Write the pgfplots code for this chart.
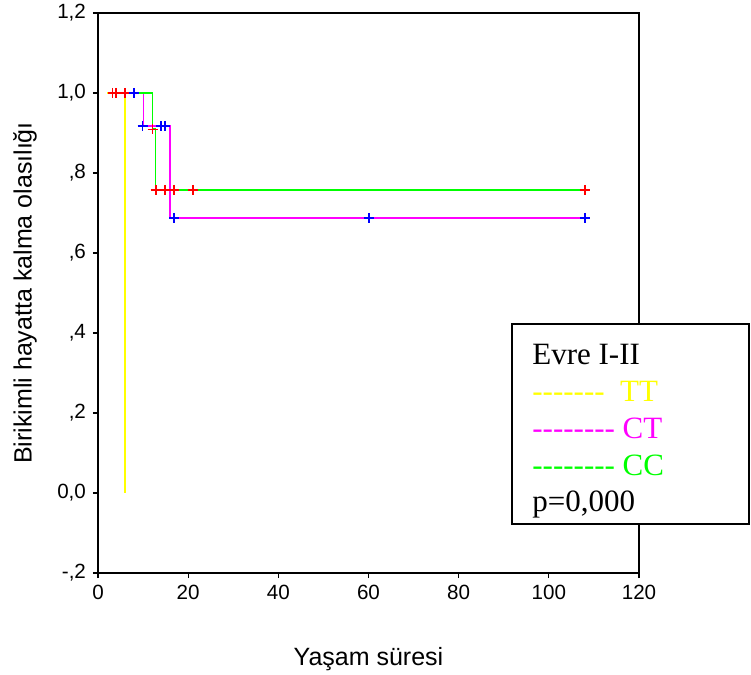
\documentclass[border=0pt]{standalone}
\usepackage{fontspec}
\setmainfont{Liberation Sans}
\newfontfamily\timesfont{Liberation Serif}
\usepackage{pgfplots}
\pgfplotsset{compat=1.18}
\definecolor{kmyellow}{RGB}{255,255,0}
\definecolor{kmmagenta}{RGB}{255,0,255}
\definecolor{kmgreen}{RGB}{0,255,0}
\definecolor{kmred}{RGB}{255,0,0}
\definecolor{kmblue}{RGB}{0,0,255}

\begin{document}
\begin{tikzpicture}
\useasboundingbox (-49pt,-51pt) rectangle (326.5pt,286.5pt);
\begin{axis}[
    at={(0,0)}, anchor=south west,
    scale only axis,
    width=270.5pt, height=280pt,
    xmin=0, xmax=120, ymin=-0.2, ymax=1.2,
    xtick={0,20,...,120},
    ytick={-0.2,0,0.2,0.4,0.6,0.8,1.0,1.2},
    yticklabels={{-,2},{0,0},{,2},{,4},{,6},{,8},{1,0},{1,2}},
    tick align=outside, xtick pos=left, ytick pos=left,
    major tick length=2.5pt,
    tick style={black, line width=0.6pt},
    axis line style={line width=0.6pt},
    ticklabel style={font=\fontsize{10.3}{12}\selectfont},
    /pgf/number format/assume math mode=true,
    xlabel={Yaşam süresi},
    ylabel={Birikimli hayatta kalma olasılığı},
    label style={font=\fontsize{12.5}{15}\selectfont},
    xlabel style={at={(axis description cs:0.5,-0.166)}, anchor=base},
    ylabel style={at={(axis description cs:-0.135,0.5)}, anchor=center},
    clip=false,
]
% CT
\addplot[kmmagenta, line width=0.9pt] coordinates {
    (2,1) (10.1,1) (10.1,0.917) (16.0,0.917) (16.0,0.688) (108,0.688)
};
% CC
\addplot[kmgreen, line width=0.9pt] coordinates {
    (2,1) (12.1,1) (12.1,0.909) (12.75,0.909) (12.75,0.758) (108,0.758)
};
% TT
\addplot[kmyellow, line width=0.9pt] coordinates {
    (2,1) (6,1) (6,0)
};
% censored
\addplot[only marks, mark=+, kmred, mark size=2.5pt, mark options={line width=0.8pt}] coordinates {
    (3.25,1) (4.0,1) (6.0,1) (12.1,0.909) (12.8,0.758) (14.9,0.758)
    (16.9,0.758) (21.1,0.758) (108,0.758)
};
\addplot[only marks, mark=+, kmblue, mark size=2.5pt, mark options={line width=0.8pt}] coordinates {
    (8.05,1) (9.9,0.917) (14.0,0.917) (14.9,0.917) (16.9,0.688)
    (60.1,0.688) (108,0.688)
};
\end{axis}
% legend box
\draw[line width=1pt, fill=white] (207pt,24.5pt) rectangle (325.5pt,124.5pt);
\begin{scope}[every node/.style={anchor=base west, inner sep=0pt,
    font=\timesfont\fontsize{15.5}{18.5}\selectfont}]
\node at (217pt,104pt) {Evre I-II};
\node[text=kmyellow] at (217pt,85.5pt) {-{}-{}-{}-{}-{}-{}-\ \ TT};
\node[text=kmmagenta] at (217pt,67pt) {-{}-{}-{}-{}-{}-{}-{}- CT};
\node[text=kmgreen] at (217pt,48.5pt) {-{}-{}-{}-{}-{}-{}-{}- CC};
\node at (217pt,30.5pt) {p=0,000};
\end{scope}
\end{tikzpicture}
\end{document}
